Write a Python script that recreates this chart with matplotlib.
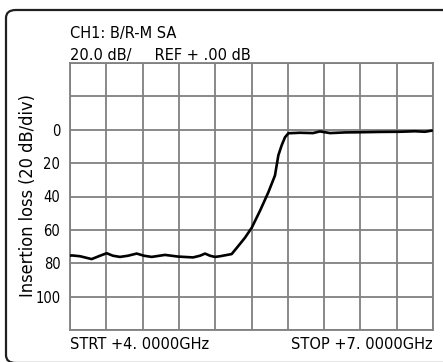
import matplotlib
matplotlib.use("Agg")
import matplotlib.pyplot as plt
from matplotlib.patches import FancyBboxPatch

freq_ghz = [4.000, 4.014, 4.083, 4.179, 4.248, 4.303, 4.355, 4.413, 4.479, 4.551,
            4.612, 4.675, 4.785, 4.893, 5.017, 5.074, 5.116, 5.157, 5.198, 5.240,
            5.336, 5.378, 5.446, 5.502, 5.570, 5.639, 5.694, 5.722, 5.750, 5.777,
            5.805, 5.901, 6.008, 6.066, 6.149, 6.273, 6.397, 6.562, 6.727, 6.851,
            6.934, 6.992]
loss_db = [75.5, 75.3, 75.8, 77.5, 75.5, 74.0, 75.5, 76.2, 75.5, 74.2,
           75.5, 76.2, 75.0, 76.0, 76.5, 75.5, 74.2, 75.5, 76.2, 75.8,
           74.5, 70.8, 64.7, 58.7, 48.6, 37.5, 27.4, 15.3, 9.2, 4.5,
           2.1, 1.8, 2.0, 1.0, 2.0, 1.6, 1.5, 1.3, 1.2, 0.9,
           1.2, 0.5]
ytick_vals = [-40, -20, 0, 20, 40, 60, 80, 100, 120]
ytick_labels = ["", "", "0", "20", "40", "60", "80", "100", ""]
header_line1 = "CH1: B/R-M SA"
header_line2 = "20.0 dB/     REF + .00 dB"
start_label = "STRT +4. 0000GHz"
stop_label = "STOP +7. 0000GHz"
y_title = "Insertion loss (20 dB/div)"

plt.rcParams['font.family'] = ["DejaVu Sans"]

fig = plt.figure(figsize=(4.43, 3.62), dpi=100)
ax = fig.add_axes([70/443, 1-330/362, 363/443, 267/362])

ax.plot(freq_ghz, loss_db, color="black", lw=1.9, solid_joinstyle="round",
        solid_capstyle="round", zorder=3)
ax.set_xlim(4.0, 7.0)
ax.set_ylim(120, -40)
ax.set_xticks([4.0 + 0.3*i for i in range(11)])
ax.set_xticklabels([])
ax.set_yticks(ytick_vals)
ax.set_yticklabels(ytick_labels, fontsize=10.5, fontstretch="condensed")
ax.grid(True, color="#808080", lw=1.3)
ax.tick_params(length=0, pad=7)
for s in ax.spines.values():
    s.set_color("#808080")
    s.set_linewidth(1.3)
ax.set_axisbelow(True)

fig.text(28/443, 1-196/362, y_title, fontsize=13, fontstretch="condensed",
         rotation=90, ha="center", va="center")

fig.text(70/443, 1-38/362, header_line1, fontsize=10.5, ha="left", va="baseline")
fig.text(70/443, 1-60/362, header_line2, fontsize=10.5, ha="left", va="baseline")
fig.text(70/443, 1-349/362, start_label, fontsize=10.5, ha="left", va="baseline")
fig.text(433/443, 1-349/362, stop_label, fontsize=10.5, ha="right", va="baseline")

box = FancyBboxPatch((6/443, -1/362), 447/443, 353/362, transform=fig.transFigure,
                     boxstyle="round,pad=0,rounding_size=0.022", fill=False,
                     edgecolor="#202020", lw=1.6)
fig.patches.append(box)

fig.savefig("out.png", dpi=100)
